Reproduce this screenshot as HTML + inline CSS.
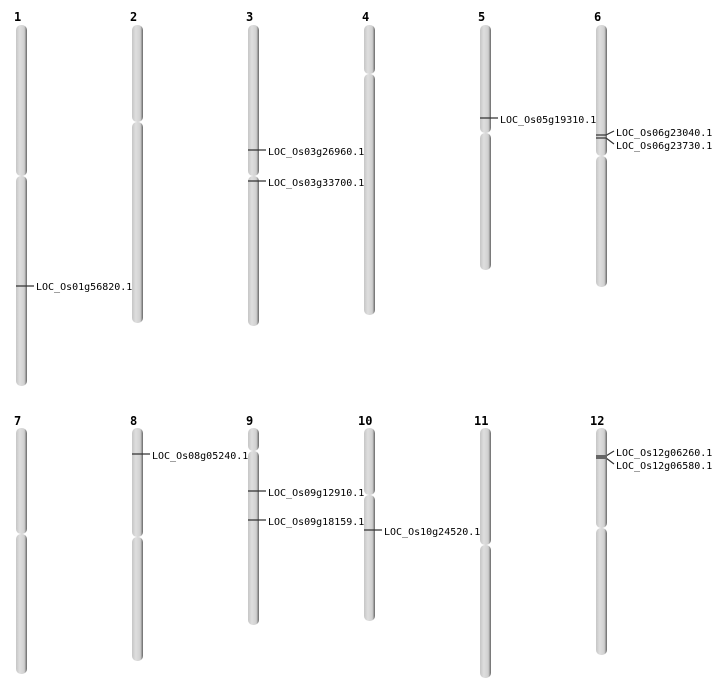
<!DOCTYPE html>
<html><head><meta charset="utf-8"><style>
html,body{margin:0;padding:0;background:#fff;}
svg{display:block;}
text{font-family:"DejaVu Sans Mono","Liberation Mono",monospace;}
.n{font-size:12px;font-weight:bold;fill:#000;}
.l{font-size:10px;fill:#000;}
.m{stroke:#333;stroke-width:1.2;}
</style></head><body>
<svg width="712" height="700" viewBox="0 0 712 700">
<defs>
<linearGradient id="g" x1="0" x2="1" y1="0" y2="0">
<stop offset="0" stop-color="#c6c6c6"/>
<stop offset="0.35" stop-color="#dedede"/>
<stop offset="0.75" stop-color="#d0d0d0"/>
<stop offset="0.85" stop-color="#a8a8a8"/>
<stop offset="1" stop-color="#666"/>
</linearGradient>
</defs>
<g fill="url(#g)">
<!-- row 1 -->
<rect x="16" y="25" width="11" height="151" rx="5"/><rect x="16" y="176" width="11" height="210" rx="5"/>
<rect x="132" y="25" width="11" height="97" rx="5"/><rect x="132" y="122" width="11" height="201" rx="5"/>
<rect x="248" y="25" width="11" height="151" rx="5"/><rect x="248" y="176" width="11" height="150" rx="5"/>
<rect x="364" y="25" width="11" height="49" rx="5"/><rect x="364" y="74" width="11" height="241" rx="5"/>
<rect x="480" y="25" width="11" height="108" rx="5"/><rect x="480" y="133" width="11" height="137" rx="5"/>
<rect x="596" y="25" width="11" height="131" rx="5"/><rect x="596" y="156" width="11" height="131" rx="5"/>
<!-- row 2 -->
<rect x="16" y="428" width="11" height="106" rx="5"/><rect x="16" y="534" width="11" height="140" rx="5"/>
<rect x="132" y="428" width="11" height="109" rx="5"/><rect x="132" y="537" width="11" height="124" rx="5"/>
<rect x="248" y="428" width="11" height="23" rx="5"/><rect x="248" y="451" width="11" height="174" rx="5"/>
<rect x="364" y="428" width="11" height="67" rx="5"/><rect x="364" y="495" width="11" height="126" rx="5"/>
<rect x="480" y="428" width="11" height="117" rx="5"/><rect x="480" y="545" width="11" height="133" rx="5"/>
<rect x="596" y="428" width="11" height="100" rx="5"/><rect x="596" y="528" width="11" height="127" rx="5"/>
</g>
<g class="n">
<text x="14" y="21" class="n">1</text><text x="130" y="21" class="n">2</text><text x="246" y="21" class="n">3</text>
<text x="362" y="21" class="n">4</text><text x="478" y="21" class="n">5</text><text x="594" y="21" class="n">6</text>
<text x="14" y="425" class="n">7</text><text x="130" y="425" class="n">8</text><text x="246" y="425" class="n">9</text>
<text x="358" y="425" class="n">10</text><text x="474" y="425" class="n">11</text><text x="590" y="425" class="n">12</text>
</g>
<g class="m" fill="none">
<line x1="16" y1="286" x2="34" y2="286"/>
<line x1="248" y1="150" x2="266" y2="150"/>
<line x1="248" y1="181" x2="266" y2="181"/>
<line x1="480" y1="118" x2="498" y2="118"/>
<line x1="596" y1="135" x2="606" y2="135"/><polyline points="606,135 614,131"/>
<line x1="596" y1="138" x2="606" y2="138"/><polyline points="606,138 614,144"/>
<line x1="132" y1="454" x2="150" y2="454"/>
<line x1="248" y1="491" x2="266" y2="491"/>
<line x1="248" y1="520" x2="266" y2="520"/>
<line x1="364" y1="530" x2="382" y2="530"/>
<line x1="596" y1="456" x2="606" y2="456"/><polyline points="606,456 614,451"/>
<line x1="596" y1="458" x2="606" y2="458"/><polyline points="606,458 614,464"/>
</g>
<rect x="596" y="455" width="11" height="4" fill="#666"/>
<g class="l">
<text x="36" y="290" class="l">LOC_Os01g56820.1</text>
<text x="268" y="155" class="l">LOC_Os03g26960.1</text>
<text x="268" y="186" class="l">LOC_Os03g33700.1</text>
<text x="500" y="123" class="l">LOC_Os05g19310.1</text>
<text x="616" y="136" class="l">LOC_Os06g23040.1</text>
<text x="616" y="149" class="l">LOC_Os06g23730.1</text>
<text x="152" y="459" class="l">LOC_Os08g05240.1</text>
<text x="268" y="496" class="l">LOC_Os09g12910.1</text>
<text x="268" y="525" class="l">LOC_Os09g18159.1</text>
<text x="384" y="535" class="l">LOC_Os10g24520.1</text>
<text x="616" y="456" class="l">LOC_Os12g06260.1</text>
<text x="616" y="469" class="l">LOC_Os12g06580.1</text>
</g>
</svg>
</body></html>
